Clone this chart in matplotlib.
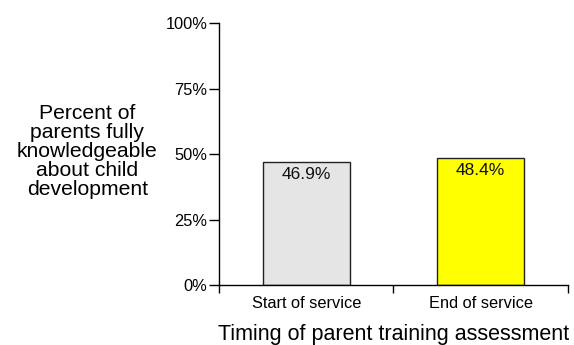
import matplotlib.pyplot as plt

plt.rcParams['font.family'] = ['Liberation Sans', 'DejaVu Sans']

categories = ['Start of service', 'End of service']
percents = [46.9, 48.4]
bar_colors = ['#e5e5e5', '#ffff00']
y_ticks = [0, 25, 50, 75, 100]
y_tick_labels = ['0%', '25%', '50%', '75%', '100%']


def main():
    fig = plt.figure(figsize=(5.74, 3.45), dpi=100)
    ax = fig.add_axes([0.3815, 0.174, 0.608, 0.759])

    xs = list(range(len(categories)))
    ax.bar(xs, percents, width=0.5, color=bar_colors, edgecolor='#222222', linewidth=1.0)
    for x, v in zip(xs, percents):
        ax.annotate('%.1f%%' % v, (x, v), xytext=(0, -3.5), textcoords='offset points',
                    ha='center', va='top', fontsize=12.5, color='#111111')

    ax.set_xlim(-0.5, len(categories) - 0.5)
    ax.set_ylim(0, 100)
    ax.set_yticks(y_ticks)
    ax.set_yticklabels(y_tick_labels, fontsize=11.8)
    # category labels sit between the boundary ticks
    ax.set_xticks(xs)
    ax.set_xticklabels(categories, fontsize=11.8)
    ax.set_xticks([i - 0.5 for i in range(len(categories) + 1)], minor=True)
    ax.tick_params(axis='x', which='major', length=0, pad=8)
    ax.tick_params(axis='x', which='minor', length=6, width=1)
    ax.tick_params(axis='y', length=7, width=1, pad=1.5)

    for s in ['top', 'right']:
        ax.spines[s].set_visible(False)
    for s in ['left', 'bottom']:
        ax.spines[s].set_linewidth(1.0)

    ax.set_xlabel('Timing of parent training assessment', fontsize=15.5, labelpad=9)
    fig.text(0.152, 0.56, 'Percent of\nparents fully\nknowledgeable\nabout child\ndevelopment',
             ha='center', va='center', fontsize=15.2, linespacing=1.0)

    fig.savefig('out.png', dpi=100)


if __name__ == '__main__':
    main()
